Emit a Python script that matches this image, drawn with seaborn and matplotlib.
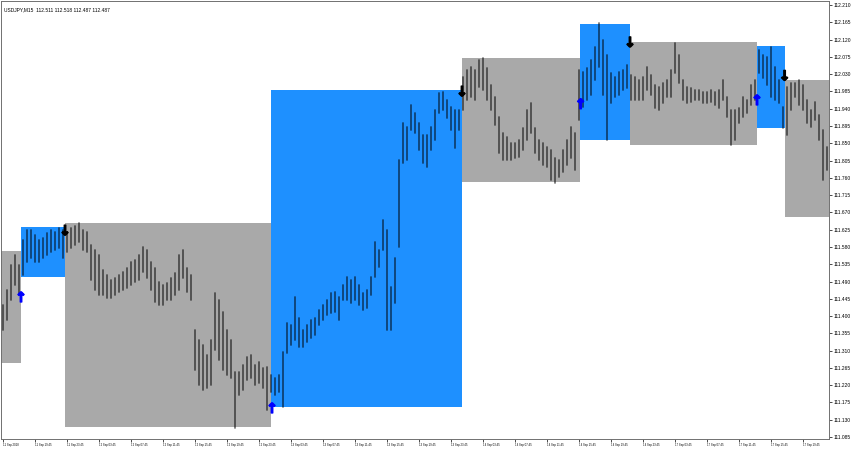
import numpy as np
import pandas as pd
import matplotlib
matplotlib.use("Agg")
import matplotlib.pyplot as plt
import matplotlib.patheffects as pe
from matplotlib.patches import Rectangle
import seaborn as sns

# USDJPY M15 (one value pair per 30 min column)
highs = [
    111.429, 111.468, 111.533, 111.559, 111.533, 111.598, 111.624, 111.624, 111.611, 111.598,
    111.603, 111.616, 111.624, 111.619, 111.629, 111.624, 111.619, 111.629, 111.634, 111.642,
    111.624, 111.619, 111.585, 111.572, 111.559, 111.520, 111.507, 111.494, 111.499, 111.507,
    111.515, 111.525, 111.541, 111.546, 111.559, 111.580, 111.572, 111.541, 111.525, 111.489,
    111.481, 111.486, 111.499, 111.512, 111.559, 111.572, 111.525, 111.507, 111.364, 111.338,
    111.325, 111.299, 111.338, 111.460, 111.442, 111.411, 111.364, 111.338, 111.254, 111.254,
    111.273, 111.293, 111.299, 111.273, 111.280, 111.265, 111.267, 111.247, 111.239, 111.247,
    111.306, 111.382, 111.377, 111.450, 111.395, 111.364, 111.377, 111.390, 111.395, 111.416,
    111.429, 111.442, 111.460, 111.463, 111.450, 111.481, 111.502, 111.494, 111.502, 111.481,
    111.460, 111.468, 111.502, 111.593, 111.572, 111.650, 111.624, 111.476, 111.551, 111.806,
    111.903, 111.892, 111.950, 111.929, 111.903, 111.871, 111.871, 111.892, 111.937, 111.981,
    111.983, 111.963, 111.944, 111.937, 111.937, 112.022, 112.041, 112.049, 112.041, 112.067,
    112.072, 112.046, 112.002, 111.970, 111.918, 111.877, 111.866, 111.851, 111.851, 111.858,
    111.890, 111.937, 111.955, 111.890, 111.858, 111.851, 111.840, 111.832, 111.812, 111.806,
    111.832, 111.858, 111.892, 111.877, 112.041, 112.036, 112.046, 112.067, 112.101, 112.163,
    112.119, 112.080, 112.033, 112.022, 112.036, 112.041, 112.054, 112.028, 112.022, 112.015,
    112.022, 112.049, 112.028, 112.002, 111.996, 112.007, 112.015, 112.041, 112.111, 112.080,
    112.015, 111.996, 111.994, 111.989, 111.989, 111.983, 111.983, 111.989, 111.983, 111.989,
    112.015, 111.970, 111.937, 111.937, 111.942, 111.970, 111.963, 112.002, 112.015, 112.093,
    112.080, 112.075, 112.101, 112.049, 112.015, 111.944, 111.996, 112.007, 112.007, 112.015,
    112.002, 111.963, 111.937, 111.957, 111.924, 111.884, 111.840,
]
lows = [
    111.364, 111.390, 111.442, 111.481, 111.455, 111.507, 111.541, 111.551, 111.541, 111.541,
    111.551, 111.559, 111.567, 111.572, 111.577, 111.551, 111.567, 111.577, 111.585, 111.593,
    111.572, 111.567, 111.494, 111.468, 111.455, 111.455, 111.447, 111.447, 111.455, 111.463,
    111.468, 111.473, 111.481, 111.489, 111.494, 111.515, 111.499, 111.468, 111.437, 111.429,
    111.429, 111.442, 111.442, 111.455, 111.468, 111.499, 111.463, 111.442, 111.260, 111.220,
    111.207, 111.213, 111.220, 111.312, 111.286, 111.260, 111.247, 111.239, 111.108, 111.194,
    111.207, 111.234, 111.239, 111.220, 111.226, 111.213, 111.155, 111.202, 111.194, 111.202,
    111.163, 111.304, 111.325, 111.338, 111.319, 111.319, 111.332, 111.343, 111.351, 111.377,
    111.390, 111.403, 111.408, 111.411, 111.390, 111.442, 111.442, 111.434, 111.442, 111.429,
    111.416, 111.421, 111.455, 111.502, 111.528, 111.572, 111.364, 111.364, 111.434, 111.580,
    111.799, 111.806, 111.884, 111.877, 111.832, 111.799, 111.788, 111.832, 111.858, 111.929,
    111.937, 111.916, 111.884, 111.838, 111.884, 111.937, 111.963, 111.970, 111.963, 111.996,
    111.989, 111.963, 111.937, 111.898, 111.825, 111.806, 111.806, 111.806, 111.812, 111.814,
    111.832, 111.858, 111.877, 111.825, 111.806, 111.793, 111.788, 111.754, 111.746, 111.762,
    111.775, 111.793, 111.812, 111.780, 111.911, 111.944, 111.963, 111.976, 112.015, 112.049,
    111.976, 111.858, 111.955, 111.970, 111.976, 111.989, 111.994, 111.963, 111.963, 111.963,
    111.963, 111.989, 111.976, 111.942, 111.937, 111.955, 111.970, 111.970, 112.033, 112.007,
    111.963, 111.955, 111.957, 111.963, 111.963, 111.955, 111.955, 111.957, 111.950, 111.942,
    111.963, 111.918, 111.845, 111.858, 111.903, 111.918, 111.929, 111.950, 111.963, 112.033,
    112.020, 112.002, 111.970, 111.963, 111.955, 111.890, 111.871, 111.937, 111.970, 111.950,
    111.937, 111.903, 111.892, 111.911, 111.858, 111.754, 111.780,
]

# signal zones (bar index edges and price levels)
box_start = [-0.5, 4.5, 15.5, 67.0, 114.75, 144.25, 156.75, 188.5, 195.5]
box_end = [4.5, 15.5, 67.0, 114.75, 144.25, 156.75, 188.5, 195.5, 206.5]
box_top = [111.569, 111.632, 111.642, 111.989, 112.072, 112.161, 112.114, 112.103, 112.015]
box_bottom = [111.278, 111.502, 111.111, 111.163, 111.749, 111.858, 111.845, 111.890, 111.658]
box_kind = ["sell", "buy", "sell", "buy", "sell", "buy", "sell", "buy", "sell"]

buy_bar = [4.5, 67.25, 144.4, 188.5]
buy_price = [111.447, 111.158, 111.950, 111.960]
sell_bar = [15.5, 114.75, 156.75, 195.4]
sell_price = [111.621, 111.983, 112.111, 112.024]

time_labels = [
    "11 Sep 2018",
    "11 Sep 19:45", "11 Sep 23:45",
    "12 Sep 03:45", "12 Sep 07:45", "12 Sep 11:45", "12 Sep 15:45", "12 Sep 19:45", "12 Sep 23:45",
    "13 Sep 03:45", "13 Sep 07:45", "13 Sep 11:45", "13 Sep 15:45", "13 Sep 19:45", "13 Sep 23:45",
    "14 Sep 03:45", "14 Sep 07:45", "14 Sep 11:45", "14 Sep 15:45", "14 Sep 19:45", "14 Sep 23:45",
    "17 Sep 03:45", "17 Sep 07:45", "17 Sep 11:45", "17 Sep 15:45", "17 Sep 19:45",
]
time_ticks = [0] + [8 + 8 * k for k in range(25)]
price_ticks = [round(111.085 + 0.045 * k, 3) for k in range(26)]

zone_colors = {"buy": "#1E90FF", "sell": "#A9A9A9"}

sns.set_style("white")
plt.rcParams["font.family"] = ["Liberation Sans", "DejaVu Sans"]

fig = plt.figure(figsize=(8.52, 4.5), dpi=100)
ax = fig.add_axes([1 / 852, 11 / 450, 828 / 852, 438 / 450])

for x0, x1, top, bot, kind in zip(box_start, box_end, box_top, box_bottom, box_kind):
    ax.add_patch(Rectangle((x0, bot), x1 - x0, top - bot, facecolor=zone_colors[kind],
                           edgecolor="none", zorder=1))

idx = np.arange(len(highs))
bars = pd.DataFrame({
    "bar": np.repeat(idx, 2),
    "price": np.column_stack([lows, highs]).ravel(),
})
sns.lineplot(data=bars, x="bar", y="price", units="bar", estimator=None,
             color="black", alpha=0.55, linewidth=1.3, ax=ax, zorder=2)

for b, p in zip(buy_bar, buy_price):
    ax.text(b, p, "\u2191", color="#0000FF", fontsize=10, fontweight="bold",
            family="DejaVu Sans", ha="center", va="center", zorder=3,
            path_effects=[pe.withStroke(linewidth=0.9, foreground="#0000FF")])
for b, p in zip(sell_bar, sell_price):
    ax.text(b, p, "\u2193", color="black", fontsize=10, fontweight="bold",
            family="DejaVu Sans", ha="center", va="center", zorder=3,
            path_effects=[pe.withStroke(linewidth=0.9, foreground="black")])

ax.set_xlim(-0.5, 206.5)
ax.set_ylim(111.0799, 112.2204)
ax.set_xlabel("")
ax.set_ylabel("")

ax.yaxis.tick_right()
ax.set_yticks(price_ticks)
ax.set_yticklabels([f"{v:.3f}" for v in price_ticks])
ax.set_xticks(time_ticks)
ax.set_xticklabels(time_labels, ha="left")
ax.tick_params(axis="y", direction="out", length=2.5, width=0.5, pad=1, labelsize=3.5,
               colors="black", right=True, left=False)
ax.tick_params(axis="x", direction="out", length=2.5, width=0.5, pad=0.6, labelsize=2.0,
               colors="black", bottom=True)
for s in ax.spines.values():
    s.set_color("#707070")
    s.set_linewidth(0.7)

ax.text(0.004, 0.985, "USDJPY,M15  112.511 112.518 112.487 112.487", transform=ax.transAxes,
        fontsize=3.5, ha="left", va="top", color="black")

fig.savefig("out.png", dpi=100, facecolor="white")
